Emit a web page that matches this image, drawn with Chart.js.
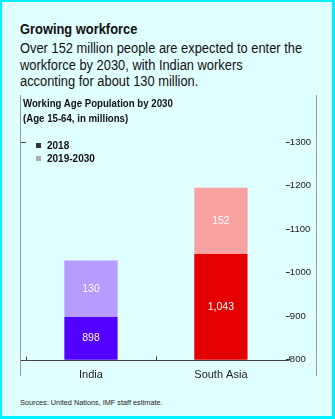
<!DOCTYPE html>
<html>
<head>
<meta charset="utf-8">
<script src="https://cdn.jsdelivr.net/npm/chart.js@4.4.0/dist/chart.umd.min.js"></script>
<style>
  html, body { margin: 0; padding: 0; }
  body { width: 335px; height: 419px; overflow: hidden; font-family: "Liberation Sans", Arial, sans-serif; }
  #page { position: absolute; left: 0; top: 0; width: 330px; height: 414px; background: #e0ffff; border: 2px solid #00f0ff; border-right-width: 3px; border-bottom-width: 3px; }
  .narrow { transform: scaleX(0.92); transform-origin: 0 0; white-space: nowrap; }
  #title { position: absolute; left: 18px; top: 19px; font-size: 14px; font-weight: bold; color: #111; }
  #sub { position: absolute; left: 18px; top: 38px; font-size: 14px; line-height: 16.5px; color: #111; }
  #frame { position: absolute; left: 18px; top: 93px; width: 295px; height: 281px; border-left: 1px solid #999; border-right: 1px solid #999; }
  #ctitle { position: absolute; left: 21px; top: 94px; font-size: 10.5px; font-weight: bold; line-height: 15px; color: #111; }
  #legend { position: absolute; left: 34px; top: 137px; font-size: 10px; font-weight: bold; color: #111; line-height: 13px; }
  #legend span.sw { display: inline-block; width: 5px; height: 5px; margin-right: 6px; vertical-align: 1px; }
  #wrap { position: absolute; left: 18px; top: 93px; width: 297px; height: 288px; }
  #src { position: absolute; left: 18px; top: 396px; font-size: 7.3px; color: #222; }
</style>
</head>
<body>
<div id="page">
  <div id="title" class="narrow">Growing workforce</div>
  <div id="sub" class="narrow">Over 152 million people are expected to enter the<br>workforce by 2030, with Indian workers<br>acconting for about 130 million.</div>
  <div id="frame"></div>
  <div id="wrap"><canvas id="chart"></canvas></div>
  <div id="ctitle" class="narrow">Working Age Population by 2030<br>(Age 15-64, in millions)</div>
  <div id="legend">
    <div><span class="sw" style="background:#333"></span>2018</div>
    <div><span class="sw" style="background:#aaa"></span>2019-2030</div>
  </div>
  <div id="src">Sources: United Nations, IMF staff estimate.</div>
</div>
<script>
// categories and series
const regions = ['India', 'South Asia'];
const pop2018 = [898, 1043];
const growth2030 = [130, 152];
const colors2018 = ['#5200ff', '#e40000'];
const colors2030 = ['#b69cff', '#f7a2a0'];
const yTicks = [800, 900, 1000, 1100, 1200, 1300];

// white value labels inside each segment
const valueLabels = {
  id: 'valueLabels',
  afterDatasetsDraw(chart) {
    const ctx = chart.ctx;
    const bottom = chart.chartArea.bottom;
    ctx.save();
    ctx.fillStyle = '#ffffff';
    ctx.font = '10.5px "Liberation Sans", Arial, sans-serif';
    ctx.textAlign = 'center';
    ctx.textBaseline = 'middle';
    chart.data.datasets.forEach((ds, i) => {
      chart.getDatasetMeta(i).data.forEach((bar, j) => {
        const p = bar.getProps(['x', 'y', 'base'], true);
        const base = Math.min(p.base, bottom);
        ctx.fillText(ds.data[j].toLocaleString('en-US'), p.x, (p.y + base) / 2);
      });
    });
    ctx.restore();
  }
};

// baseline out to the frame, small inward ticks, left frame tick
const innerTicks = {
  id: 'innerTicks',
  afterDraw(chart) {
    const ctx = chart.ctx;
    const x = chart.scales.x, y = chart.scales.y;
    const base = Math.round(y.getPixelForValue(800)) + 0.5;
    const half = (x.getPixelForValue(1) - x.getPixelForValue(0)) / 2;
    ctx.save();
    ctx.strokeStyle = '#444';
    ctx.lineWidth = 1;
    ctx.beginPath();
    ctx.moveTo(1, base);
    ctx.lineTo(x.right + 3, base);
    [x.getPixelForValue(0) - half, x.getPixelForValue(0) + half, x.getPixelForValue(1) + half + 3].forEach(px => {
      const r = Math.round(px) + 0.5;
      ctx.moveTo(r, base);
      ctx.lineTo(r, base - 4);
    });
    const ly = Math.round(y.getPixelForValue(1300)) + 0.5;
    ctx.moveTo(1, ly);
    ctx.lineTo(6, ly);
    ctx.stroke();
    ctx.restore();
  }
};

new Chart(document.getElementById('chart'), {
  type: 'bar',
  data: {
    labels: regions,
    datasets: [
      { label: '2018', data: pop2018, backgroundColor: colors2018, barPercentage: 0.41, categoryPercentage: 1 },
      { label: '2019-2030', data: growth2030, backgroundColor: colors2030, barPercentage: 0.41, categoryPercentage: 1 }
    ]
  },
  options: {
    responsive: true,
    maintainAspectRatio: false,
    animation: false,
    layout: { padding: { left: 6, top: 4, right: 6, bottom: 0 } },
    plugins: { legend: { display: false }, tooltip: { enabled: false } },
    scales: {
      x: {
        stacked: true,
        border: { display: false },
        grid: { display: false },
        ticks: { color: '#222', font: { size: 11, family: '"Liberation Sans", Arial' }, padding: 1 }
      },
      y: {
        stacked: true,
        position: 'right',
        min: 800,
        max: 1395,
        afterBuildTicks: s => { s.ticks = yTicks.map(v => ({ value: v })); },
        border: { display: false },
        grid: { drawOnChartArea: false, drawTicks: true, tickLength: 4, color: '#333' },
        ticks: { color: '#222', padding: 0, font: { size: 9.5, family: '"Liberation Sans", Arial' }, callback: v => String(v) }
      }
    }
  },
  plugins: [valueLabels, innerTicks]
});
</script>
</body>
</html>
